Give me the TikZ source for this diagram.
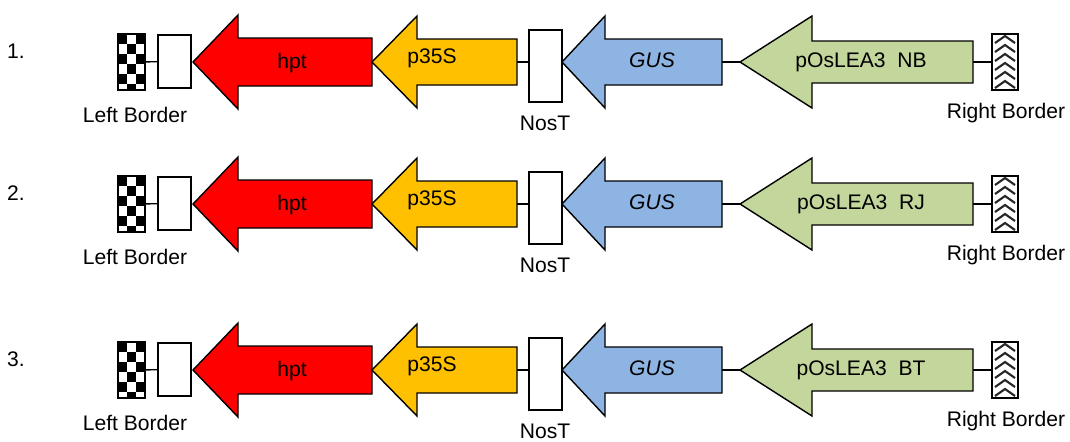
\documentclass[tikz,border=0pt]{standalone}
\usepackage{fontspec}
\setmainfont{Liberation Sans}
\usepackage{tikz}
\usetikzlibrary{positioning}
\definecolor{hptred}{RGB}{255,0,0}
\definecolor{proyellow}{RGB}{255,192,0}
\definecolor{gusblue}{RGB}{142,180,227}
\definecolor{leagreen}{RGB}{195,214,155}
\tikzset{every node/.style = {font=\fontsize{12}{14}\selectfont}}
\tikzset{gene/.style = {draw, line width=0.8pt, line join=miter}}
\tikzset{link/.style = {draw, line width=0.8pt}}
\tikzset{spacer/.style = {draw, fill=white, line width=0.8pt, inner sep=0,
                          minimum width=0.66cm, minimum height=1.06cm}}
\tikzset{border/.style = {draw, fill=white, line width=0.8pt, inner sep=0,
                          minimum width=0.54cm, minimum height=1.12cm}}

\begin{document}
\begin{tikzpicture}[x=0.02cm, y=-0.02cm]
    \useasboundingbox (0,0) rectangle (1070,441);

    \foreach \n/\dy/\tag in {1/0/NB, 2/142/RJ, 3/308/BT} {
      \begin{scope}[shift={(0,\dy+62)}]
        \node (num) at (16,-11) {\n.};

        % borders and spacers
        \node [border] (lb) at (131.5,0) {};
        \begin{scope}
          \clip (118,-28) rectangle (145,28);
          \foreach \i in {0,1,2}
            \foreach \j in {0,...,5} {
              \pgfmathparse{int(mod(\i+\j,2))}
              \ifnum\pgfmathresult=0
                \fill (118+\i*9,-28+\j*10) rectangle ++(9,10);
              \fi
            }
        \end{scope}
        \draw [line width=0.8pt] (lb.north west) rectangle (lb.south east);

        \node [border, minimum width=0.52cm] (rb) at (1005,0) {};
        \foreach \k in {0,...,5}
          \draw [black!85, line width=1.2pt]
            (995,-19+\k*9) -- (1005,-26+\k*9) -- (1015,-19+\k*9);

        \node [spacer] (wb) at (174.5,-0.5) {};
        \node [spacer, minimum height=1.44cm] (nos) at (545.5,4) {};

        % genes
        \draw [gene, fill=hptred] (193,0) coordinate (hpttip) -- (238,-47) -- (238,-24)
          -- (372,-24) -- (372,24) -- (238,24) -- (238,47) -- cycle;
        \draw [gene, fill=proyellow] (372,0) -- (417,-46) -- (417,-23)
          -- (517,-23) -- (517,23) -- (417,23) -- (417,46) -- cycle;
        \coordinate (p35end) at (517,0);
        \draw [gene, fill=gusblue] (562,0) -- (605,-46) -- (605,-23)
          -- (722,-23) -- (722,23) -- (605,23) -- (605,46) -- cycle;
        \coordinate (gusend) at (722,0);
        \draw [gene, fill=leagreen] (740,0) coordinate (leatip) -- (812,-46) -- (812,-21)
          -- (973,-21) -- (973,21) -- (812,21) -- (812,46) -- cycle;
        \coordinate (leaend) at (973,0);

        \node (hpt) at (292,1) {hpt};
        \node (p35) at (432,-4) {p35S};
        \node (gus) at (652,-2) {\itshape GUS};
        \node (lea) at (861,0) {pOsLEA3\ \ \tag};

        % connectors
        \draw [link] (lb) -- (wb);
        \draw [link] (p35end) -- (p35end -| nos.west);
        \draw [link] (gusend) -- (leatip);
        \draw [link] (leaend) -- (leaend -| rb.west);

        % labels
        \node [anchor=base] (lbl) at (135,60) {Left Border};
        \node [anchor=base] (nosl) at (545,68) {NosT};
        \node [anchor=base] (rbl) at (1006,56) {Right Border};
      \end{scope}
    }
  \end{tikzpicture}
\end{document}
